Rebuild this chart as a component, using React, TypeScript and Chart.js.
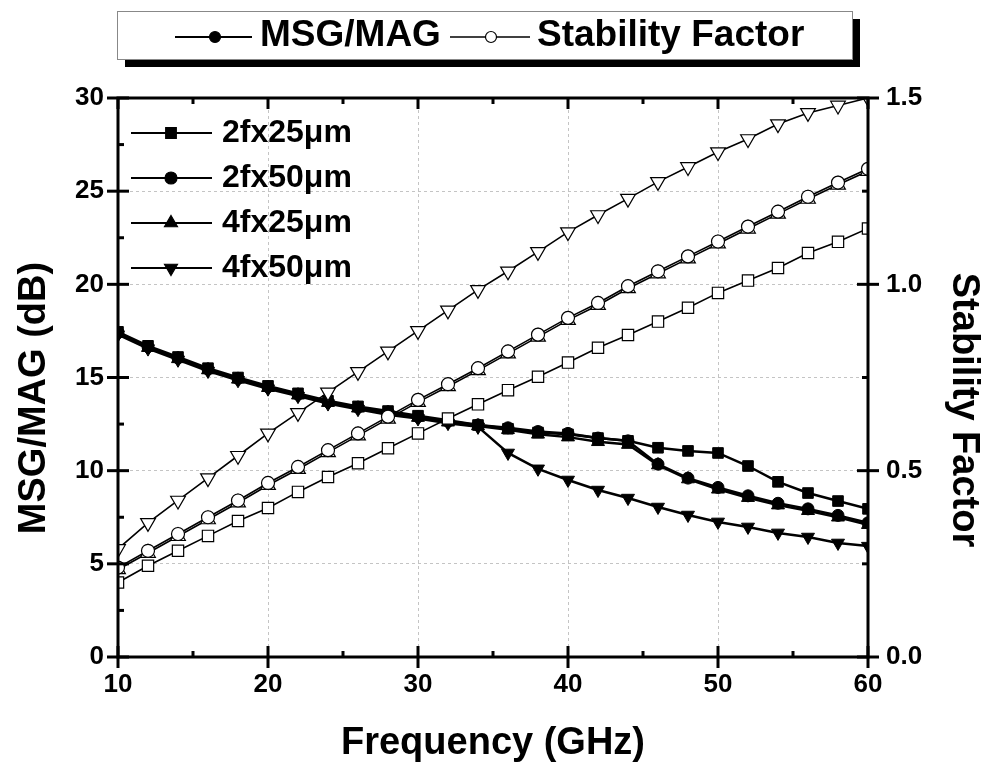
import React, { useEffect, useRef } from 'react';
import { Chart, registerables } from 'chart.js';

Chart.register(...registerables);

const FONT = '"Liberation Sans", Arial, Helvetica, sans-serif';

// Frequency points (GHz)
const freqs = [10, 12, 14, 16, 18, 20, 22, 24, 26, 28, 30, 32, 34, 36, 38, 40, 42, 44, 46, 48, 50, 52, 54, 56, 58, 60];

// MSG/MAG (dB)
const msg2f25 = [17.45, 16.7, 16.1, 15.5, 15.0, 14.55, 14.15, 13.75, 13.45, 13.2, 12.95, 12.7, 12.45, 12.25, 12.05, 11.95, 11.75, 11.6, 11.23, 11.06, 10.95, 10.25, 9.4, 8.8, 8.37, 7.95];
const msg2f50 = [17.4, 16.65, 16.05, 15.45, 14.95, 14.5, 14.1, 13.7, 13.4, 13.15, 12.9, 12.65, 12.45, 12.3, 12.1, 12.0, 11.75, 11.6, 10.35, 9.6, 9.1, 8.65, 8.25, 7.95, 7.6, 7.2];
const msg4f25 = [17.35, 16.6, 16.0, 15.4, 14.9, 14.45, 14.05, 13.65, 13.35, 13.1, 12.85, 12.6, 12.4, 12.2, 11.95, 11.8, 11.55, 11.4, 10.3, 9.55, 9.0, 8.55, 8.15, 7.85, 7.5, 7.1];
const msg4f50 = [17.3, 16.55, 15.95, 15.35, 14.85, 14.4, 14.0, 13.6, 13.3, 13.0, 12.8, 12.55, 12.35, 10.95, 10.1, 9.5, 8.96, 8.53, 8.05, 7.62, 7.25, 6.98, 6.66, 6.44, 6.12, 5.95];

// Stability factor
const sf2f25 = [0.2, 0.245, 0.285, 0.325, 0.365, 0.4, 0.443, 0.483, 0.52, 0.56, 0.6, 0.64, 0.678, 0.716, 0.752, 0.79, 0.83, 0.864, 0.9, 0.937, 0.977, 1.01, 1.044, 1.084, 1.114, 1.15];
const sf2f50 = [0.24, 0.285, 0.33, 0.375, 0.42, 0.467, 0.51, 0.555, 0.6, 0.645, 0.69, 0.732, 0.775, 0.82, 0.865, 0.91, 0.95, 0.995, 1.035, 1.075, 1.115, 1.155, 1.195, 1.235, 1.273, 1.31];
const sf4f25 = [0.235, 0.279, 0.324, 0.369, 0.414, 0.461, 0.504, 0.549, 0.594, 0.639, 0.684, 0.726, 0.769, 0.814, 0.859, 0.904, 0.944, 0.989, 1.029, 1.069, 1.109, 1.149, 1.189, 1.229, 1.267, 1.304];
const sf4f50 = [0.29, 0.36, 0.42, 0.48, 0.54, 0.6, 0.655, 0.71, 0.765, 0.82, 0.875, 0.93, 0.985, 1.035, 1.087, 1.14, 1.186, 1.23, 1.275, 1.315, 1.355, 1.39, 1.43, 1.46, 1.48, 1.5];

const seriesNames = ['2fx25\u03bcm', '2fx50\u03bcm', '4fx25\u03bcm', '4fx50\u03bcm'];
const xMajor = [10, 20, 30, 40, 50, 60];
const xMinor = [15, 25, 35, 45, 55];
const yMajor = [0, 5, 10, 15, 20, 25, 30];
const yMinor = [2.5, 7.5, 12.5, 17.5, 22.5, 27.5];
const y1Major = [0, 0.5, 1.0, 1.5];
const y1Minor = [0.25, 0.75, 1.25];

const toPts = (arr: number[]) => arr.map((v, i) => ({ x: freqs[i], y: v }));

function drawMarker(ctx: CanvasRenderingContext2D, kind: string, x: number, y: number, r: number, filled: boolean) {
  ctx.beginPath();
  if (kind === 'rect') {
    const s = r * Math.SQRT1_2;
    ctx.rect(x - s, y - s, 2 * s, 2 * s);
  } else if (kind === 'circle') {
    ctx.arc(x, y, r, 0, Math.PI * 2);
  } else if (kind === 'up') {
    ctx.moveTo(x, y - r);
    ctx.lineTo(x + r * 0.866, y + r * 0.5);
    ctx.lineTo(x - r * 0.866, y + r * 0.5);
    ctx.closePath();
  } else {
    ctx.moveTo(x, y + r);
    ctx.lineTo(x + r * 0.866, y - r * 0.5);
    ctx.lineTo(x - r * 0.866, y - r * 0.5);
    ctx.closePath();
  }
  ctx.fillStyle = filled ? '#000' : '#fff';
  ctx.fill();
  ctx.lineWidth = 1.2;
  ctx.strokeStyle = '#000';
  ctx.stroke();
}

const decoPlugin = {
  id: 'deco',
  afterDraw(chart: any) {
    const { ctx, chartArea: a, scales } = chart;
    const sx = scales.x, sy = scales.y, sy1 = scales.y1;
    ctx.save();
    ctx.strokeStyle = '#000';
    ctx.lineCap = 'butt';
    // frame
    ctx.lineWidth = 3;
    ctx.strokeRect(a.left, a.top, a.right - a.left, a.bottom - a.top);
    const line = (x1: number, y1: number, x2: number, y2: number, w: number) => {
      ctx.lineWidth = w;
      ctx.beginPath();
      ctx.moveTo(x1, y1);
      ctx.lineTo(x2, y2);
      ctx.stroke();
    };
    const OUT = 11, IN = 11, MIN = 6;
    xMajor.forEach((v) => {
      const p = sx.getPixelForValue(v);
      line(p, a.bottom + OUT, p, a.bottom - IN, 3);
      line(p, a.top, p, a.top + IN, 3);
    });
    xMinor.forEach((v) => {
      const p = sx.getPixelForValue(v);
      line(p, a.bottom, p, a.bottom - MIN, 3);
      line(p, a.top, p, a.top + MIN, 3);
    });
    yMajor.forEach((v) => {
      const p = sy.getPixelForValue(v);
      line(a.left - OUT, p, a.left + IN, p, 3);
    });
    yMinor.forEach((v) => {
      const p = sy.getPixelForValue(v);
      line(a.left, p, a.left + MIN, p, 3);
    });
    y1Major.forEach((v) => {
      const p = sy1.getPixelForValue(v);
      line(a.right - IN, p, a.right + OUT, p, 3);
    });
    y1Minor.forEach((v) => {
      const p = sy1.getPixelForValue(v);
      line(a.right - MIN, p, a.right, p, 3);
    });

    // axis titles
    ctx.fillStyle = '#000';
    ctx.font = `bold 38px ${FONT}`;
    ctx.textAlign = 'center';
    ctx.textBaseline = 'middle';
    ctx.fillText('Frequency (GHz)', (a.left + a.right) / 2, 744);
    ctx.save();
    ctx.translate(35, 398);
    ctx.rotate(-Math.PI / 2);
    ctx.fillText('MSG/MAG (dB)', 0, 0);
    ctx.restore();
    ctx.save();
    ctx.translate(963, 410);
    ctx.rotate(Math.PI / 2);
    ctx.fillText('Stability Factor', 0, 0);
    ctx.restore();

    // top legend box
    ctx.fillStyle = '#000';
    ctx.fillRect(125, 19, 735, 48);
    ctx.fillStyle = '#fff';
    ctx.fillRect(117, 11, 735, 48);
    ctx.lineWidth = 1;
    ctx.strokeStyle = '#888';
    ctx.strokeRect(117.5, 11.5, 735, 48);
    ctx.strokeStyle = '#000';
    line(175, 37, 252, 37, 2);
    drawMarker(ctx, 'circle', 215, 37, 5.5, true);
    line(450, 37, 530, 37, 1.5);
    drawMarker(ctx, 'circle', 491, 37, 5.5, false);
    ctx.fillStyle = '#000';
    ctx.font = `bold 37px ${FONT}`;
    ctx.textAlign = 'left';
    ctx.textBaseline = 'middle';
    ctx.fillText('MSG/MAG', 260, 36);
    ctx.fillText('Stability Factor', 537, 36);

    // inner legend
    const kinds = ['rect', 'circle', 'up', 'down'];
    const rows = [133, 178, 223, 268];
    ctx.font = `bold 32px ${FONT}`;
    rows.forEach((ry, i) => {
      ctx.strokeStyle = '#000';
      line(131, ry, 212, ry, 2);
      drawMarker(ctx, kinds[i], 171, ry, kinds[i] === 'rect' ? 7.5 : kinds[i] === 'circle' ? 6 : 7.5, true);
      ctx.fillStyle = '#000';
      ctx.fillText(seriesNames[i], 222, ry);
    });
    ctx.restore();
  },
};

export default function App() {
  const ref = useRef<HTMLCanvasElement>(null);
  useEffect(() => {
    if (!ref.current) return;
    const msgDs = (label: string, data: number[], style: string, r: number, rot = 0) => ({
      label,
      data: toPts(data),
      yAxisID: 'y',
      borderColor: '#000',
      borderWidth: 2.5,
      pointStyle: style,
      pointRotation: rot,
      pointRadius: r,
      pointBackgroundColor: '#000',
      pointBorderColor: '#000',
      pointBorderWidth: 1,
      fill: false,
      tension: 0,
      clip: 0,
    });
    const sfDs = (label: string, data: number[], style: string, r: number, rot = 0) => ({
      label,
      data: toPts(data),
      yAxisID: 'y1',
      borderColor: '#000',
      borderWidth: 1.6,
      pointStyle: style,
      pointRotation: rot,
      pointRadius: r,
      pointBackgroundColor: '#fff',
      pointBorderColor: '#000',
      pointBorderWidth: 1.2,
      fill: false,
      tension: 0,
      clip: 0,
    });
    const tickFont = { family: FONT, size: 26, weight: 'bold' as const };
    const chart = new Chart(ref.current, {
      type: 'line',
      data: {
        datasets: [
          sfDs('SF ' + seriesNames[0], sf2f25, 'rect', 8),
          sfDs('SF ' + seriesNames[1], sf2f50, 'circle', 6.5),
          sfDs('SF ' + seriesNames[2], sf4f25, 'triangle', 8.5),
          sfDs('SF ' + seriesNames[3], sf4f50, 'triangle', 8.5, 180),
          msgDs(seriesNames[0], msg2f25, 'rect', 7.5),
          msgDs(seriesNames[1], msg2f50, 'circle', 6),
          msgDs(seriesNames[2], msg4f25, 'triangle', 7.5),
          msgDs(seriesNames[3], msg4f50, 'triangle', 7.5, 180),
        ] as any,
      },
      options: {
        responsive: false,
        animation: false,
        devicePixelRatio: 1,
        layout: { padding: { top: 98, left: 0, right: 0, bottom: 0 } },
        plugins: { legend: { display: false }, tooltip: { enabled: false }, title: { display: false } },
        scales: {
          x: {
            type: 'linear',
            position: 'bottom',
            min: 10,
            max: 60,
            ticks: { stepSize: 10, padding: 12, color: '#000', font: tickFont, maxRotation: 0, autoSkip: false },
            grid: { color: '#c4c4c4', lineWidth: 1, drawTicks: false, borderDash: [3, 3] } as any,
            border: { display: false, dash: [3, 3] },
            afterFit: (s: any) => { s.height = 110; },
          },
          y: {
            type: 'linear',
            position: 'left',
            min: 0,
            max: 30,
            ticks: { stepSize: 5, padding: 14, color: '#000', font: tickFont },
            grid: { color: '#c4c4c4', lineWidth: 1, drawTicks: false, borderDash: [3, 3] } as any,
            border: { display: false, dash: [3, 3] },
            afterFit: (s: any) => { s.width = 118; },
          },
          y1: {
            type: 'linear',
            position: 'right',
            min: 0,
            max: 1.5,
            ticks: { stepSize: 0.5, padding: 18, color: '#000', font: tickFont, callback: (v: any) => Number(v).toFixed(1) },
            grid: { display: false, drawTicks: false },
            border: { display: false },
            afterFit: (s: any) => { s.width = 115; },
          },
        },
      } as any,
      plugins: [decoPlugin],
    });
    return () => chart.destroy();
  }, []);
  return (
    <div style={{ position: 'fixed', left: 0, top: 0, width: 983, height: 767, background: '#fff' }}>
      <canvas ref={ref} width={983} height={767} style={{ display: 'block', width: 983, height: 767 }} />
    </div>
  );
}
